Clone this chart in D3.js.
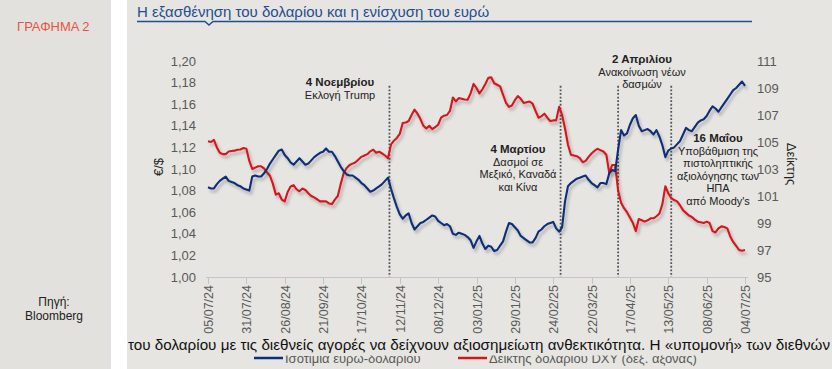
<!DOCTYPE html>
<html>
<head>
<meta charset="UTF-8">
<title>Γράφημα 2</title>
<script src="https://cdn.jsdelivr.net/npm/d3@7"></script>
<style>
  body { margin: 0; background: #e6e5e1; }
  svg text { font-family: "Liberation Sans", Arial, sans-serif; }
</style>
</head>
<body>
<svg width="832" height="369"></svg>
<script>
// ισοτιμία ευρώ-δολαρίου, ένα σημείο κάθε 2 ημέρες από 05/07/24
var eurusd = [
  1.083, 1.082, 1.082, 1.086, 1.089, 1.091, 1.093, 1.089, 1.088, 1.087,
  1.085, 1.084, 1.082, 1.081, 1.080, 1.093, 1.094, 1.093, 1.093, 1.096,
  1.100, 1.105, 1.109, 1.113, 1.117, 1.118, 1.113, 1.110, 1.106, 1.104,
  1.107, 1.110, 1.107, 1.104, 1.105, 1.108, 1.111, 1.113, 1.115, 1.116,
  1.119, 1.116, 1.116, 1.112, 1.107, 1.102, 1.098, 1.095, 1.094, 1.094,
  1.092, 1.090, 1.087, 1.085, 1.082, 1.079, 1.080, 1.082, 1.084, 1.086,
  1.089, 1.092, 1.082, 1.073, 1.065, 1.058, 1.054, 1.057, 1.059, 1.050,
  1.044, 1.047, 1.050, 1.051, 1.053, 1.055, 1.057, 1.056, 1.052, 1.050,
  1.048, 1.049, 1.047, 1.040, 1.039, 1.041, 1.040, 1.039, 1.037, 1.034,
  1.027, 1.033, 1.038, 1.031, 1.026, 1.029, 1.028, 1.024, 1.025, 1.029,
  1.033, 1.042, 1.050, 1.049, 1.046, 1.043, 1.038, 1.036, 1.034, 1.032,
  1.032, 1.036, 1.042, 1.044, 1.047, 1.049, 1.050, 1.051, 1.045, 1.042,
  1.046, 1.070, 1.084, 1.087, 1.089, 1.091, 1.092, 1.093, 1.094, 1.090,
  1.087, 1.085, 1.083, 1.087, 1.087, 1.086, 1.096, 1.099, 1.098, 1.118,
  1.136, 1.131, 1.133, 1.141, 1.147, 1.150, 1.140, 1.135, 1.136, 1.137,
  1.135, 1.132, 1.136, 1.130, 1.122, 1.111, 1.117, 1.119, 1.120, 1.123,
  1.126, 1.132, 1.138, 1.136, 1.135, 1.139, 1.143, 1.145, 1.146, 1.149,
  1.154, 1.158, 1.156, 1.153, 1.157, 1.161, 1.165, 1.169, 1.173, 1.175,
  1.178, 1.181, 1.177];

// δείκτης DXY (δεξιός άξονας)
var dxy = [
  105.05, 105.0, 105.15, 104.6, 104.2, 104.1, 104.1, 104.3, 104.33, 104.36,
  104.43, 104.45, 104.55, 104.5, 103.6, 103.0, 103.1, 103.2, 103.2, 103.05,
  102.75, 102.5, 101.9, 101.1, 101.2, 100.73, 100.6, 101.3, 101.7, 101.8,
  101.5, 101.35, 101.55, 101.45, 101.2, 101.0, 100.9, 100.75, 100.6, 100.6,
  100.6, 100.45, 100.4, 100.73, 101.0, 101.9, 102.7, 103.07, 103.3, 103.4,
  103.5, 103.7, 103.9, 104.0, 104.1, 104.31, 104.43, 104.2, 104.28, 104.15,
  104.0, 103.8, 104.8, 105.1, 105.3, 105.6, 106.4, 106.45, 106.55, 107.0,
  107.4, 107.1, 106.7, 106.2, 106.0, 106.2, 105.95, 106.1, 106.28, 106.8,
  106.95, 107.0, 107.3, 108.3, 108.0, 108.25, 108.2, 108.15, 108.13, 108.6,
  109.3, 109.0, 108.6, 108.9, 109.3, 109.75, 109.8, 109.35, 109.24, 109.12,
  108.5, 107.9, 107.6, 107.7, 108.1, 108.4, 108.2, 107.89, 107.95, 108.0,
  107.85, 107.3, 106.8, 106.9, 107.1, 106.8, 106.55, 106.6, 106.6, 107.6,
  107.0, 106.0, 104.8, 104.06, 104.0, 103.95, 103.8, 103.5, 103.6, 103.9,
  104.15, 104.35, 104.5, 104.4, 104.3, 104.06, 102.7, 103.3, 103.3, 101.4,
  100.5, 100.1, 99.8, 99.4, 99.0, 98.4, 99.3, 99.2, 99.1, 99.2,
  99.35, 99.35, 99.5, 99.7, 100.4, 101.72, 101.2, 100.85, 100.7, 100.6,
  100.3, 99.95, 99.75, 99.55, 99.45, 99.25, 99.1, 99.05, 99.0, 99.1,
  99.0, 98.4, 98.3, 98.6, 98.75, 98.7, 98.6, 98.0, 97.6, 97.3,
  97.0, 96.95, 97.0];

var tickLabels = ["05/07/24", "31/07/24", "26/08/24", "21/09/24", "17/10/24", "12/11/24",
  "08/12/24", "03/01/25", "29/01/25", "24/02/25", "22/03/25", "17/04/25",
  "13/05/25", "08/06/25", "04/07/25"];
var leftTicks = [1.00, 1.02, 1.04, 1.06, 1.08, 1.10, 1.12, 1.14, 1.16, 1.18, 1.20];
var rightTicks = [95, 97, 99, 101, 103, 105, 107, 109, 111];
var eventDates = ["05/11/24", "01/03/25", "09/04/25", "15/05/25"];

var notes = [
  {x: 340, y: 86, lines: ["4 Νοεμβρίου", "Εκλογή Trump"]},
  {x: 518, y: 153, lines: ["4 Μαρτίου", "Δασμοί σε", "Μεξικό, Καναδά", "και Κίνα"]},
  {x: 642, y: 63, lines: ["2 Απριλίου", "Ανακοίνωση νέων", "δασμών"]},
  {x: 718, y: 142, lines: ["16 Μαΐου", "Υποβάθμιση της", "πιστοληπτικής", "αξιολόγησης των", "ΗΠΑ", "από Moody's"]}
];

var parse = d3.timeParse("%d/%m/%y");
var start = parse("05/07/24");
var dates = d3.range(eurusd.length).map(function(i) { return d3.timeDay.offset(start, i * 2); });

var svg = d3.select("svg");
var bg = "#e6e5e1";
var gray = "#595959";

// φίλτρο σκιάς για τις γραμμές
var filter = svg.append("defs").append("filter").attr("id", "shadow")
  .attr("x", "-5%").attr("y", "-10%").attr("width", "110%").attr("height", "130%");
filter.append("feDropShadow").attr("dx", 2).attr("dy", 3).attr("stdDeviation", 1.4)
  .attr("flood-color", "#000").attr("flood-opacity", 0.25);

// φόντο
svg.append("rect").attr("width", 832).attr("height", 369).attr("fill", bg);
svg.append("rect").attr("width", 111).attr("height", 369).attr("fill", "#e2e1dd");
svg.append("rect").attr("x", 111).attr("width", 16).attr("height", 369).attr("fill", "#ffffff");

svg.append("text").attr("x", 17).attr("y", 31).attr("font-size", 13)
  .attr("fill", "#e8553e").text("ΓΡΑΦΗΜΑ 2");
svg.append("text").attr("x", 54).attr("y", 306).attr("font-size", 12)
  .attr("text-anchor", "middle").attr("fill", "#222").text("Πηγή:");
svg.append("text").attr("x", 54).attr("y", 320).attr("font-size", 12)
  .attr("text-anchor", "middle").attr("fill", "#222").text("Bloomberg");

// τίτλος
svg.append("text").attr("x", 137).attr("y", 17).attr("font-size", 15)
  .attr("fill", "#1f4f8f").text("Η εξασθένηση του δολαρίου και η ενίσχυση του ευρώ");
svg.append("path").attr("d", "M137,21.5H205L209,25L213,21.5H752")
  .attr("fill", "none").attr("stroke", "#1f4f8f").attr("stroke-width", 1.5);

var x = d3.scaleTime().domain([start, parse("04/07/25")]).range([208, 745]);
var y = d3.scaleLinear().domain([1.0, 1.2]).range([277, 61]);
var y2 = d3.scaleLinear().domain([95, 111]).range([277, 61]);

// άξονας x
svg.append("line").attr("x1", 206).attr("x2", 748).attr("y1", 277.5).attr("y2", 277.5)
  .attr("stroke", "#c4c4c4");
var xt = svg.append("g").selectAll("g").data(tickLabels).enter().append("g")
  .attr("transform", function(d) { return "translate(" + Math.round(x(parse(d))) + ",0)"; });
xt.append("line").attr("x1", 0.5).attr("x2", 0.5).attr("y1", 277).attr("y2", 284)
  .attr("stroke", "#c4c4c4");
xt.append("text").attr("transform", "translate(1,285) rotate(-90)")
  .attr("text-anchor", "end").attr("dy", "0.35em").attr("font-size", 12.5)
  .attr("fill", gray).text(function(d) { return d; });

// αριστερός άξονας
var fmt = d3.format(".2f");
svg.append("g").selectAll("text").data(leftTicks).enter().append("text")
  .attr("x", 196).attr("y", function(d) { return y(d); }).attr("dy", "0.35em")
  .attr("text-anchor", "end").attr("font-size", 13).attr("fill", gray)
  .text(function(d) { return fmt(d).replace(".", ","); });
svg.append("text").attr("transform", "translate(163,167) rotate(-90)")
  .attr("text-anchor", "middle").attr("font-size", 13).attr("fill", "#222").text("€/$");

// δεξιός άξονας
svg.append("g").selectAll("text").data(rightTicks).enter().append("text")
  .attr("x", 757).attr("y", function(d) { return y2(d); }).attr("dy", "0.35em")
  .attr("font-size", 13).attr("fill", gray).text(function(d) { return d; });
svg.append("text").attr("transform", "translate(787,164) rotate(90)")
  .attr("text-anchor", "middle").attr("font-size", 13).attr("fill", "#222").text("Δείκτης");

// κάθετες γραμμές γεγονότων
svg.append("g").selectAll("line").data(eventDates).enter().append("line")
  .attr("x1", function(d) { return x(parse(d)); }).attr("x2", function(d) { return x(parse(d)); })
  .attr("y1", y(1.177)).attr("y2", y(1.0))
  .attr("stroke", "#555").attr("stroke-width", 1.8).attr("stroke-dasharray", "1.8,1.8");

// σειρές
var eurLine = d3.line().x(function(d, i) { return x(dates[i]); }).y(function(d) { return y(d); });
var dxyLine = d3.line().x(function(d, i) { return x(dates[i]); }).y(function(d) { return y2(d); });

svg.append("path").datum(dxy).attr("d", dxyLine).attr("fill", "none")
  .attr("stroke", "#d7141c").attr("stroke-width", 2.1).attr("stroke-linejoin", "round")
  .attr("filter", "url(#shadow)");
svg.append("path").datum(eurusd).attr("d", eurLine).attr("fill", "none")
  .attr("stroke", "#0c2f78").attr("stroke-width", 2.1).attr("stroke-linejoin", "round")
  .attr("filter", "url(#shadow)");

// σχόλια
notes.forEach(function(n) {
  var t = svg.append("text").attr("text-anchor", "middle").attr("fill", "#222");
  n.lines.forEach(function(s, i) {
    t.append("tspan").attr("x", n.x).attr("y", n.y + i * 12.5)
      .attr("font-size", i === 0 ? 11.5 : 11)
      .attr("font-weight", i === 0 ? "bold" : "normal").text(s);
  });
});

// υπόμνημα
svg.append("line").attr("x1", 254).attr("x2", 283).attr("y1", 358).attr("y2", 358)
  .attr("stroke", "#0c2f78").attr("stroke-width", 2.5);
svg.append("text").attr("x", 285).attr("y", 363).attr("font-size", 13).attr("fill", gray)
  .text("Ισοτιμία ευρώ-δολαρίου");
svg.append("line").attr("x1", 458).attr("x2", 487).attr("y1", 358).attr("y2", 358)
  .attr("stroke", "#d7141c").attr("stroke-width", 2.5);
svg.append("text").attr("x", 489).attr("y", 363).attr("font-size", 13).attr("fill", gray)
  .text("Δείκτης δολαρίου DXY (δεξ. άξονας)");

// κείμενο σελίδας πάνω από το υπόμνημα
svg.append("rect").attr("x", 127).attr("y", 334).attr("width", 705).attr("height", 21.5).attr("fill", bg);
svg.append("text").attr("x", 128).attr("y", 349.5).attr("font-size", 14.5).attr("fill", "#111")
  .attr("textLength", 702).attr("lengthAdjust", "spacingAndGlyphs")
  .text("του δολαρίου με τις διεθνείς αγορές να δείχνουν αξιοσημείωτη ανθεκτικότητα. Η «υπομονή» των διεθνών");
</script>
</body>
</html>
